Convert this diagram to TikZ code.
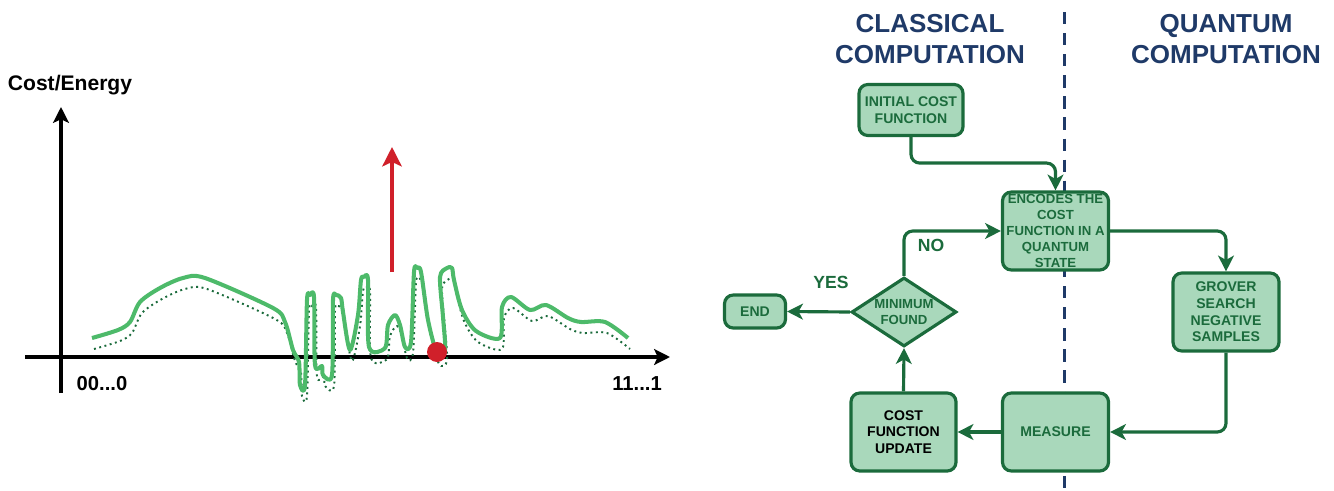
\documentclass[tikz,border=0pt]{standalone}
\usepackage{fontspec}
\setmainfont{Liberation Sans}
\usetikzlibrary{arrows.meta,shapes.geometric}
\definecolor{CFlowDark}{HTML}{1B6B3C}
\definecolor{CFlowFill}{HTML}{A9D8BB}
\definecolor{CTitle}{HTML}{1F3A68}
\definecolor{CCurve}{HTML}{4DBA6A}
\definecolor{CRed}{HTML}{D0202A}

\newcommand\landscape{plot[smooth, tension=0.5] coordinates {
  (92,338) (118,330) (130,322) (140,302) (160,288) (183,278) (205,278) (273,308)
  (285,322) (293,350) (299,362) (300,385) (305,385) (307,300) (310,295) (314,297)
  (315,365) (322,366) (323,375) (332,375) (333,300) (336,295) (341,298) (343,312)
  (350,350) (358,315) (361,280) (364,277) (368,280) (369,347) (385,348) (388,325)
  (395,315) (400,325) (405,347) (411,342) (414,272) (417,268) (421,272) (428,320)
  (437,353) (445,350) (443,317) (440,277) (447,268) (452,268) (454,280) (462,310)
  (476,331) (500,338) (502,307) (511,297) (530,310) (546,305) (568,318) (581,322)
  (605,322) (628,338)}}

\begin{document}
\begin{tikzpicture}[x=0.02cm, y=-0.02cm,
    box/.style={draw=CFlowDark, fill=CFlowFill, line width=1.8pt, rounded corners=5pt, text=CFlowDark,
      align=center, inner sep=1pt, font=\bfseries\fontsize{8}{9.5}\selectfont},
    decision/.style={box, diamond, sharp corners, aspect=1.5, inner sep=0pt, font=\bfseries\fontsize{7.5}{9.5}\selectfont},
    flow/.style={draw=CFlowDark, line width=1.8pt, rounded corners=5pt, -{Stealth[length=9pt, width=9pt, inset=2.5pt]}},
    title/.style={text=CTitle, align=center, font=\bfseries\fontsize{14.8}{18}\selectfont},
    lbl/.style={text=CFlowDark, font=\bfseries\fontsize{10}{12}\selectfont},
    axlbl/.style={font=\bfseries\fontsize{11.5}{13}\selectfont},
    axis/.style={line width=2.3pt, -{Stealth[length=9pt, width=9pt, inset=2pt]}},
    curve/.style={draw=CCurve, line width=2.3pt, line join=round},
    shade/.style={draw=CFlowDark, line width=1.1pt, dotted},
    divider/.style={draw=CTitle, line width=1.7pt, dash pattern=on 7pt off 5pt}
]
  \useasboundingbox (0,0) rectangle (1334,490);

  \draw[axis] (61,393) -- (61,107);
  \draw[axis] (25,357) -- (670,357);
  \node[axlbl, font=\bfseries\fontsize{12}{14}\selectfont] (ylabel) at (70,85) {Cost/Energy};
  \node[axlbl] (xmin) at (102,384) {00...0};
  \node[axlbl] (xmax) at (637,384) {11...1};
  \begin{scope}[shift={(2,11)}]
    \draw[shade] \landscape;
  \end{scope}
  \draw[curve] \landscape;
  \fill[CRed] (437,352) circle[radius=0.2cm];
  \draw[CRed, line width=2.8pt, -{Stealth[length=11pt, width=11pt, inset=2.5pt]}] (392,272) -- (392,147);

  \draw[divider] (1064,12) -- (1064,490);
  \node[title] (classical) at (930,39) {CLASSICAL\\COMPUTATION};
  \node[title] (quantum) at (1226,39) {QUANTUM\\COMPUTATION};

  \node[box, minimum width=2.08cm, minimum height=1.02cm] (init) at (911,110) {INITIAL COST\\FUNCTION};
  \node[box, minimum width=2.12cm, minimum height=1.56cm, font=\bfseries\fontsize{7.5}{9}\selectfont] (encode) at (1055.5,231) {ENCODES THE\\COST\\FUNCTION IN A\\QUANTUM\\STATE};
  \node[box, minimum width=2.12cm, minimum height=1.56cm] (grover) at (1226,312) {GROVER\\SEARCH\\NEGATIVE\\SAMPLES};
  \node[box, minimum width=2.12cm, minimum height=1.56cm] (measure) at (1055.5,432) {MEASURE};
  \node[box, minimum width=2.1cm, minimum height=1.56cm, text=black] (update) at (903.5,432) {COST\\FUNCTION\\UPDATE};
  \node[decision, minimum width=2.1cm, minimum height=1.38cm] (found) at (904,312) {MINIMUM\\FOUND};
  \node[box, minimum width=1.22cm, minimum height=0.66cm] (finish) at (755,311.5) {END};

  \draw[flow] (init.south) -- ++(0,26) -| (encode.north);
  \draw[flow] (encode.east) -| (grover.north);
  \draw[flow] (grover.south) |- (measure.east);
  \draw[flow] (measure.west) -- (update.east);
  \draw[flow] (update.north) -- (found.south);
  \draw[flow] (found.west) -- (finish.east);
  \draw[flow] (found.north) |- (encode.west);
  \node[lbl] (yes) at (831,282) {YES};
  \node[lbl] (no) at (931,245) {NO};
\end{tikzpicture}
\end{document}
